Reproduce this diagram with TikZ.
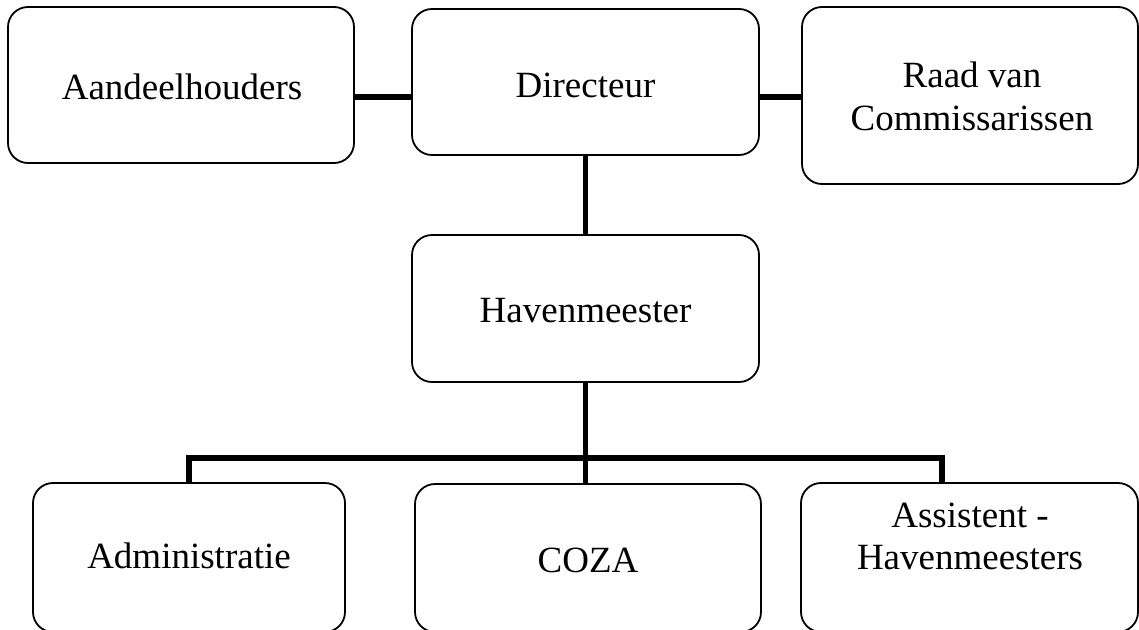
\documentclass[tikz,border=0pt]{standalone}
\usepackage{fontspec}
\setmainfont{Liberation Serif}
\begin{document}
\begin{tikzpicture}[x=1pt,y=-1pt,
  box/.style={draw=black, rounded corners=20pt, line width=1.8pt, rectangle, inner sep=0pt},
  lbl/.style={anchor=base, inner sep=0pt, align=center, font=\fontsize{37}{43}\selectfont},
  conn/.style={line width=5.5pt, draw=black}]
\useasboundingbox (0,0) rectangle (1139,629);
\clip (0,0) rectangle (1139,629);
% boxes
\node[box, minimum width=346pt, minimum height=156pt] (aand) at (181,85) {};
\node[box, minimum width=347pt, minimum height=146pt] (dir) at (585.5,82) {};
\node[box, minimum width=336pt, minimum height=177pt] (raad) at (970,95.5) {};
\node[box, minimum width=347pt, minimum height=147pt] (hav) at (585.5,308.5) {};
\node[box, minimum width=312pt, minimum height=149pt] (adm) at (189,557.5) {};
\node[box, minimum width=346pt, minimum height=148pt] (coza) at (588,558) {};
\node[box, minimum width=337pt, minimum height=149pt] (ast) at (969.5,557.5) {};
% labels
\node[lbl] (taand) at (182,99) {Aandeelhouders};
\node[lbl] (tdir) at (585.5,97) {Directeur};
\node[lbl] (traad) at (972,130) {Raad van\\Commissarissen};
\node[lbl] (thav) at (585.5,322) {Havenmeester};
\node[lbl] (tadm) at (189,568) {Administratie};
\node[lbl] (tcoza) at (588,572) {COZA};
\node[lbl, font=\fontsize{37}{42}\selectfont] (tast) at (970,569) {Assistent -\\Havenmeesters};
% connectors
\coordinate (hy) at (0,97);
\coordinate (busR) at (942,458);
\draw[conn] (aand.east |- hy) -- (dir.west |- hy);
\draw[conn] (dir.east |- hy) -- (raad.west |- hy);
\draw[conn] (dir.south) -- (hav.north);
\draw[conn] (hav.south) -- (hav.south |- coza.north);
\draw[conn] (adm.north) |- (busR) -- (busR |- ast.north);
\end{tikzpicture}
\end{document}
